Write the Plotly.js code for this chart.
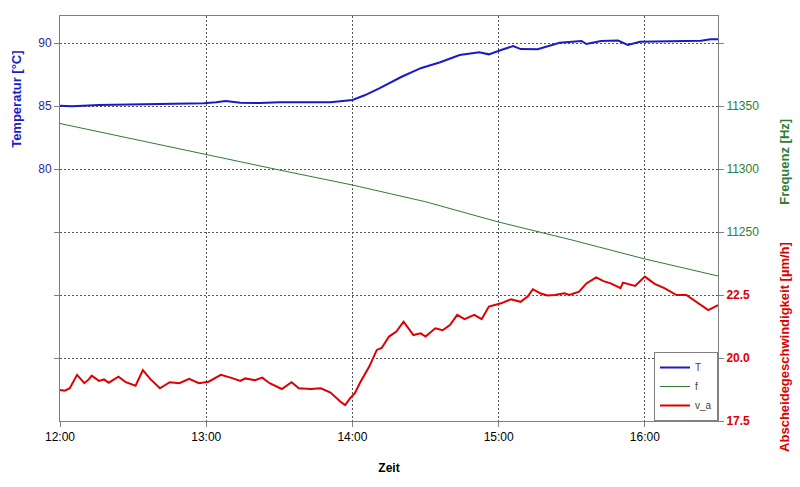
<!DOCTYPE html>
<html>
<head>
<meta charset="utf-8">
<script src="https://cdn.plot.ly/plotly-3.0.1.min.js"></script>
<style>html,body{margin:0;padding:0;background:#fff;}#chart{width:800px;height:487px;}</style>
</head>
<body>
<div id="chart"></div>
<script>
// Temperatur T [°C]
const tTimes = ["12:00","12:05","12:16","12:25","12:37","12:48","12:59","13:04","13:08","13:14","13:22","13:30","13:38","13:45","13:51","13:55","14:00","14:05","14:11","14:20","14:28","14:36","14:44","14:52","14:56","15:01","15:06","15:09","15:16","15:25","15:34","15:36","15:42","15:49","15:53","15:58","16:06","16:15","16:23","16:27","16:30"];
const tValues = [85.02,84.98,85.08,85.10,85.12,85.15,85.21,85.30,85.40,85.25,85.24,85.30,85.28,85.25,85.29,85.38,85.48,85.85,86.40,87.30,88.00,88.47,89.05,89.26,89.10,89.44,89.76,89.52,89.50,90.02,90.16,89.92,90.16,90.20,89.84,90.10,90.12,90.15,90.18,90.29,90.29];

// Frequenz f [Hz]
const fTimes = ["12:00","12:30","13:00","13:30","14:00","14:30","15:00","15:30","16:00","16:30"];
const fValues = [11336.1,11323.8,11311.1,11299.2,11287.3,11274.0,11257.9,11243.7,11228.6,11215.1];

// Abscheidegeschwindigkeit v_a [µm/h]
const vTimes = ["12:00","12:02","12:04","12:07","12:10","12:12","12:13","12:16","12:18","12:20","12:24","12:27","12:31","12:34","12:37","12:41","12:45","12:49","12:53","12:57","13:01","13:06","13:10","13:14","13:16","13:20","13:23","13:26","13:31","13:35","13:38","13:43","13:47","13:51","13:55","13:57","13:59","14:01","14:03","14:07","14:10","14:12","14:15","14:18","14:21","14:25","14:28","14:30","14:34","14:37","14:40","14:43","14:46","14:50","14:53","14:56","15:01","15:05","15:09","15:12","15:14","15:17","15:20","15:23","15:27","15:29","15:33","15:36","15:40","15:43","15:46","15:50","15:51","15:56","16:00","16:04","16:08","16:13","16:17","16:21","16:24","16:26","16:30"];
const vValues = [18.73,18.70,18.80,19.33,19.00,19.17,19.30,19.09,19.15,19.02,19.26,19.04,18.90,19.52,19.17,18.80,19.04,19.00,19.17,19.00,19.06,19.33,19.22,19.09,19.19,19.12,19.22,19.00,18.77,19.04,18.80,18.77,18.80,18.63,18.27,18.13,18.40,18.60,19.00,19.68,20.32,20.40,20.85,21.05,21.44,20.91,20.98,20.85,21.18,21.10,21.31,21.71,21.54,21.71,21.54,22.04,22.17,22.33,22.23,22.45,22.73,22.57,22.48,22.50,22.57,22.50,22.63,22.96,23.20,23.05,22.96,22.77,22.99,22.86,23.23,22.94,22.77,22.50,22.50,22.23,22.05,21.90,22.10];

// Tick labels
const xTickVals = ["12:00","13:00","14:00","15:00","16:00"];
const tTickVals = [65,70,75,80,85,90];
const tTickText = ["","","","80","85","90"];
const fTickVals = [11250,11300,11350,11400];
const fTickText = ["11250","11300","11350",""];
const vTickVals = [17.5,20.0,22.5];
const vTickText = ["17.5","20.0","22.5"];

const day = "2000-01-01 ";
const toDate = a => a.map(s => day + s + ":00");

const FONT = "Liberation Sans, Arial, sans-serif";
const BLUE = "#1a1ac8", GREEN = "#2e7d32", RED = "#dd0000";

const traces = [
  {x: toDate(tTimes), y: tValues, name: "T", type: "scatter", mode: "lines",
   line: {color: BLUE, width: 2}, yaxis: "y"},
  {x: toDate(fTimes), y: fValues, name: "f", type: "scatter", mode: "lines",
   line: {color: GREEN, width: 1}, yaxis: "y2"},
  {x: toDate(vTimes), y: vValues, name: "v_a", type: "scatter", mode: "lines",
   line: {color: RED, width: 2}, yaxis: "y3"}
];

const layout = {
  width: 800, height: 487,
  margin: {l: 60, r: 82, t: 16, b: 66},
  paper_bgcolor: "#fff", plot_bgcolor: "#fff",
  font: {family: FONT, size: 12, color: "#000"},
  showlegend: true,
  legend: {x: 1, xanchor: "right", y: 0, yanchor: "bottom", bgcolor: "#fff",
           bordercolor: "#808080", borderwidth: 1, font: {size: 10, color: "#444"},
           tracegroupgap: 0, itemwidth: 30},
  xaxis: {
    type: "date", range: [day + "12:00:00", day + "16:30:00"],
    tickvals: toDate(xTickVals), tickformat: "%H:%M",
    showgrid: true, gridcolor: "#555", griddash: "2px,2px", gridwidth: 1,
    showline: true, linecolor: "#808080", linewidth: 1, mirror: true,
    ticks: "outside", ticklen: 5, tickcolor: "#808080",
    tickfont: {size: 12, color: "#000"}, zeroline: false,
    title: {text: "<b>Zeit</b>", font: {size: 12, color: "#000"}, standoff: 20}
  },
  yaxis: {
    range: [60, 92.143], tickvals: tTickVals, ticktext: tTickText,
    showgrid: true, gridcolor: "#555", griddash: "2px,2px", gridwidth: 1,
    showline: true, linecolor: "#808080", linewidth: 1,
    ticks: "outside", ticklen: 5, tickcolor: "#808080",
    tickfont: {size: 12, color: "#2a2a9a"}, zeroline: false
  },
  yaxis2: {
    overlaying: "y", side: "right", range: [11100, 11421.43],
    tickvals: fTickVals, ticktext: fTickText,
    showgrid: false, showline: true, linecolor: "#808080", linewidth: 1,
    ticks: "outside", ticklen: 5, tickcolor: "#808080",
    tickfont: {size: 12, color: GREEN}, zeroline: false
  },
  yaxis3: {
    overlaying: "y", side: "right", range: [17.5, 33.571],
    tickvals: vTickVals, ticktext: vTickText.map(s => "<b>" + s + "</b>"),
    showgrid: false, showline: false,
    ticks: "outside", ticklen: 5, tickcolor: "#808080",
    tickfont: {size: 12, color: RED}, zeroline: false
  },
  annotations: [
    {text: "<b>Temperatur [°C]</b>", xref: "paper", yref: "paper", x: 0, xshift: -43,
     y: 0.793, xanchor: "center", yanchor: "middle", textangle: -90, showarrow: false,
     font: {size: 13, color: BLUE}},
    {text: "<b>Frequenz [Hz]</b>", xref: "paper", yref: "paper", x: 1, xshift: 67,
     y: 0.64, xanchor: "center", yanchor: "middle", textangle: -90, showarrow: false,
     font: {size: 13, color: GREEN}},
    {text: "<b>Abscheidegeschwindigkeit [µm/h]</b>", xref: "paper", yref: "paper", x: 1, xshift: 67,
     y: 0.183, xanchor: "center", yanchor: "middle", textangle: -90, showarrow: false,
     font: {size: 13, color: RED}}
  ]
};

Plotly.newPlot("chart", traces, layout, {displayModeBar: false, staticPlot: true});
</script>
</body>
</html>
